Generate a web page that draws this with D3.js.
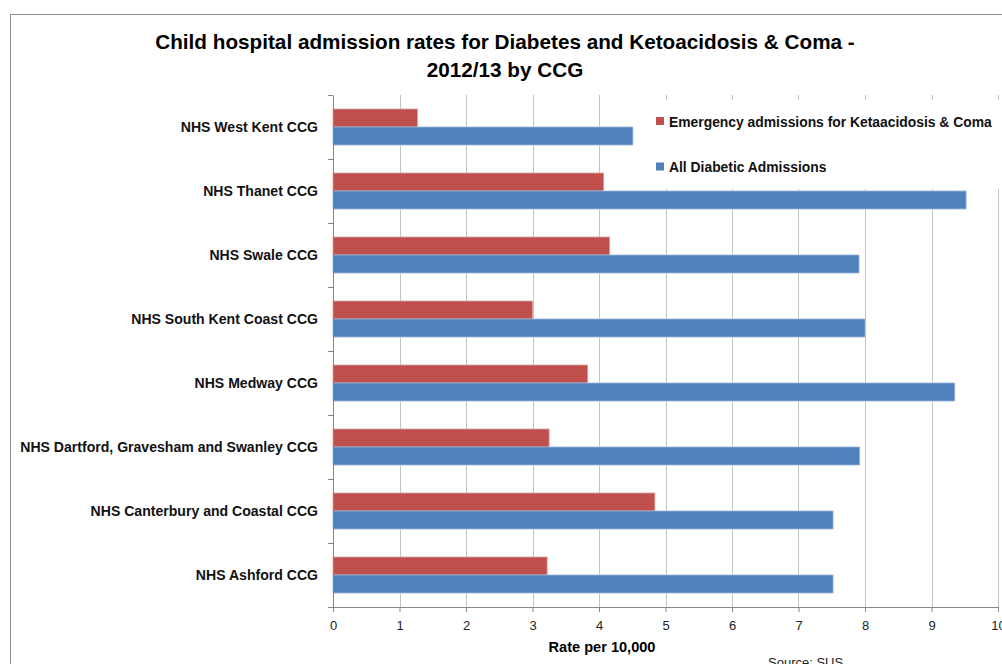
<!DOCTYPE html>
<html>
<head>
<meta charset="utf-8">
<script src="https://cdn.jsdelivr.net/npm/d3@7"></script>
<style>
  html, body { margin: 0; padding: 0; background: #fff; }
  svg { display: block; font-family: "Liberation Sans", Arial, sans-serif; }
</style>
</head>
<body>
<svg id="chart" width="1002" height="664"></svg>
<script>
// ---- data ----
const categories = [
  "NHS West Kent CCG",
  "NHS Thanet CCG",
  "NHS Swale CCG",
  "NHS South Kent Coast CCG",
  "NHS Medway CCG",
  "NHS Dartford, Gravesham and Swanley CCG",
  "NHS Canterbury and Coastal CCG",
  "NHS Ashford CCG"
];
const seriesNames = [
  "Emergency admissions for Ketaacidosis & Coma",
  "All Diabetic Admissions"
];
const emergencyValues = [1.27, 4.07, 4.16, 3.00, 3.83, 3.25, 4.84, 3.22];
const allDiabeticValues = [4.51, 9.52, 7.91, 8.00, 9.35, 7.92, 7.52, 7.52];
const xTicks = [0, 1, 2, 3, 4, 5, 6, 7, 8, 9, 10];
const titleLines = [
  "Child hospital admission rates for Diabetes and Ketoacidosis & Coma -",
  "2012/13 by CCG"
];
const xAxisTitle = "Rate per 10,000";
const sourceText = "Source: SUS";

// ---- layout ----
const svg = d3.select("#chart");
const colors = ["#C0504D", "#4F81BD"];
const plot = { left: 333, right: 998, top: 95, bottom: 607 };

function fitWidth(sel, target) {
  const node = sel.node();
  const fs = parseFloat(sel.attr("font-size"));
  const w = node.getComputedTextLength();
  const nfs = fs * target / w;
  sel.attr("font-size", nfs);
  return nfs;
}

// chart border
svg.append("rect")
  .attr("x", 10.5).attr("y", 14.5)
  .attr("width", 1100).attr("height", 800)
  .attr("fill", "#fff").attr("stroke", "#8c8c8c").attr("stroke-width", 1);

const x = d3.scaleLinear().domain([0, 10]).range([plot.left, plot.right]);
const y0 = d3.scaleBand().domain(categories).range([plot.top, plot.bottom])
  .paddingInner(0.4375).paddingOuter(0.21875);
const y1 = d3.scaleBand().domain(seriesNames).range([0, y0.bandwidth()]);

// gridlines
svg.append("g")
  .selectAll("line")
  .data(xTicks.filter(d => d > 0))
  .join("line")
  .attr("x1", d => Math.round(x(d)) + 0.5).attr("x2", d => Math.round(x(d)) + 0.5)
  .attr("y1", plot.top).attr("y2", plot.bottom)
  .attr("stroke", "#c3c3c3").attr("stroke-width", 1);

// legend background (covers gridlines)
svg.append("rect")
  .attr("x", 648).attr("y", 100).attr("width", 360).attr("height", 89)
  .attr("fill", "#fff");

// bars
const seriesData = [emergencyValues, allDiabeticValues];
const groups = svg.append("g").selectAll("g")
  .data(categories)
  .join("g")
  .attr("transform", d => `translate(0,${y0(d)})`);

groups.selectAll("rect")
  .data((d, i) => seriesNames.map((s, j) => ({ s, v: seriesData[j][i], j })))
  .join("rect")
  .attr("x", x(0))
  .attr("y", d => y1(d.s))
  .attr("width", d => x(d.v) - x(0))
  .attr("height", y1.bandwidth())
  .attr("fill", d => colors[d.j])
  .attr("stroke", d => d.j === 0 ? "#d9a09e" : "#9db8dc")
  .attr("stroke-width", 0.8);

// x axis
const xAxis = d3.axisBottom(x).tickValues(xTicks).tickSize(5).tickSizeOuter(0).tickPadding(9);
const gx = svg.append("g").attr("transform", `translate(0,${plot.bottom})`).call(xAxis);
gx.select(".domain").attr("stroke", "#868686");
gx.selectAll(".tick line").attr("stroke", "#868686");
gx.selectAll(".tick text")
  .attr("fill", "#222").attr("font-size", 13)
  .attr("font-family", "'Liberation Sans', Arial, sans-serif");

// y axis
const yAxis = d3.axisLeft(y0).tickSize(0).tickPadding(15);
const gy = svg.append("g").attr("transform", `translate(${plot.left},0)`).call(yAxis);
gy.select(".domain").attr("stroke", "#868686");
gy.selectAll(".tick text")
  .attr("fill", "#111").attr("font-size", 13).attr("font-weight", "bold")
  .attr("font-family", "'Liberation Sans', Arial, sans-serif");
// category separator ticks
const step = y0.step();
const boundaries = categories.map((c, i) => y0(c) - y0.paddingOuter() * step + 0 ).concat([plot.bottom]);
svg.append("g").selectAll("line")
  .data(d3.range(categories.length + 1))
  .join("line")
  .attr("x1", plot.left - 5).attr("x2", plot.left)
  .attr("y1", i => Math.round(plot.top + i * step) + 0.5)
  .attr("y2", i => Math.round(plot.top + i * step) + 0.5)
  .attr("stroke", "#868686");

// fit category labels to match the longest label width
const longest = gy.selectAll(".tick text").filter(d => d === categories[5]);
const catFs = fitWidth(longest, 298);
gy.selectAll(".tick text").attr("font-size", catFs);

// title
const t1 = svg.append("text")
  .attr("x", 505).attr("y", 49)
  .attr("text-anchor", "middle").attr("font-weight", "bold")
  .attr("font-size", 20).attr("fill", "#000")
  .text(titleLines[0]);
const tfs = fitWidth(t1, 700);
svg.append("text")
  .attr("x", 505).attr("y", 77)
  .attr("text-anchor", "middle").attr("font-weight", "bold")
  .attr("font-size", tfs).attr("fill", "#000")
  .text(titleLines[1]);

// legend
const legend = svg.append("g");
const legendY = [121.5, 167];
seriesNames.forEach((s, i) => {
  legend.append("rect")
    .attr("x", 656).attr("y", legendY[i] - 4.5).attr("width", 8).attr("height", 8)
    .attr("fill", colors[i]);
  const lt = legend.append("text")
    .attr("x", 669).attr("y", legendY[i] + 5)
    .attr("font-weight", "bold").attr("font-size", 13).attr("fill", "#111")
    .text(s);
  if (i === 0) {
    const lfs = fitWidth(lt, 323);
    legend.attr("data-fs", lfs);
  } else {
    lt.attr("font-size", +legend.attr("data-fs"));
  }
});

// axis title
const at = svg.append("text")
  .attr("x", 602).attr("y", 652)
  .attr("text-anchor", "middle").attr("font-weight", "bold")
  .attr("font-size", 14).attr("fill", "#000")
  .text(xAxisTitle);
fitWidth(at, 107);

// source
svg.append("text")
  .attr("x", 768).attr("y", 667)
  .attr("font-size", 13).attr("fill", "#222")
  .text(sourceText);
</script>
</body>
</html>
